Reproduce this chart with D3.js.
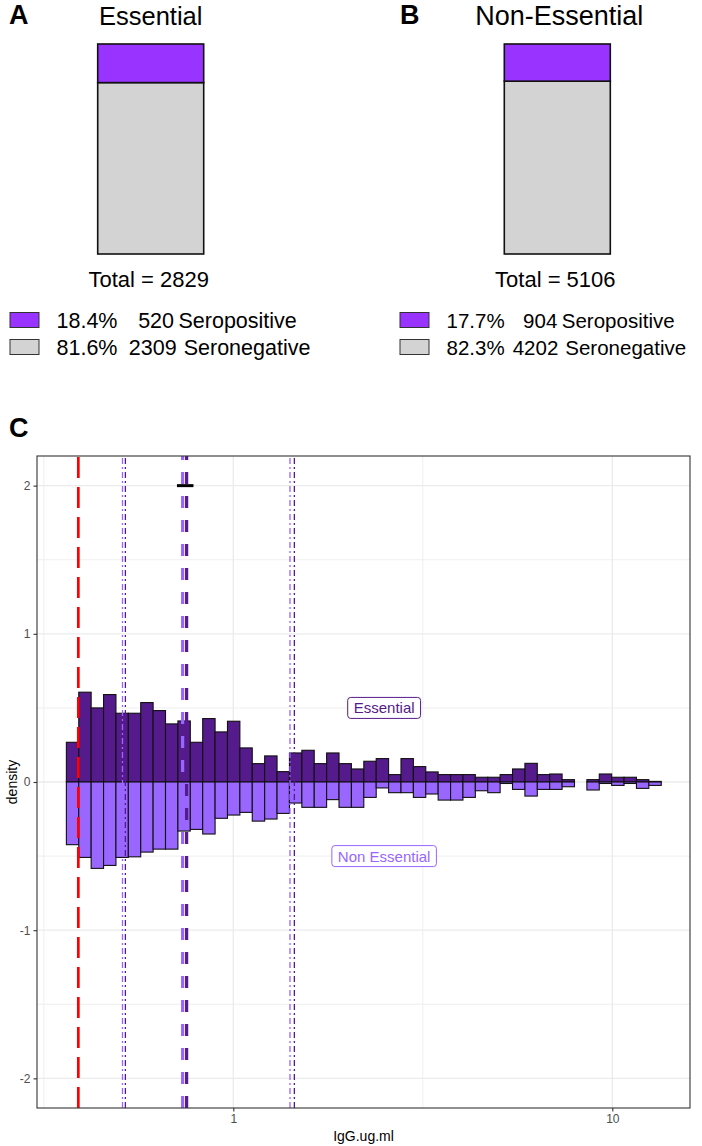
<!DOCTYPE html>
<html>
<head>
<meta charset="utf-8">
<script src="https://cdn.jsdelivr.net/npm/d3@7"></script>
<style>
body { margin: 0; background: #fff; }
text { font-family: "Liberation Sans", Arial, sans-serif; }
</style>
</head>
<body>
<div id="chart"></div>
<script>
// ---- data: panels A / B ----
var groups = ["Essential", "Non-Essential"];
var panelTags = ["A", "B"];
var seroPositive = [520, 904];
var seroNegative = [2309, 4202];
var statusLabels = ["Seropositive", "Seronegative"];

// ---- data: panel C (mirrored histogram on log10 IgG) ----
var histLabels = ["Essential", "Non Essential"];
var binStartLog = -0.4405;   // log10 of first break
var binWidthLog = 0.0327;
var essentialDensity = [0.268, 0.606, 0.50, 0.59, 0.464, 0.464, 0.536, 0.482, 0.392, 0.412,
    0.268, 0.428, 0.338, 0.41, 0.23, 0.124, 0.176, 0.07, 0.196, 0.214,
    0.124, 0.196, 0.124, 0.088, 0.14, 0.158, 0.05, 0.158, 0.104, 0.068,
    0.05, 0.05, 0.05, 0.032, 0.032, 0.05, 0.088, 0.126, 0.05, 0.054,
    0.016, 0, 0.016, 0.054, 0.032, 0.032, 0.016, 0.004];
var nonEssentialDensity = [0.423, 0.509, 0.583, 0.563, 0.509, 0.505, 0.473, 0.453, 0.453, 0.331,
    0.32, 0.351, 0.245, 0.223, 0.205, 0.264, 0.25, 0.212, 0.142, 0.171,
    0.171, 0.119, 0.171, 0.171, 0.104, 0.04, 0.072, 0.072, 0.104, 0.081,
    0.122, 0.122, 0.104, 0.059, 0.072, 0.01, 0.05, 0.095, 0.05, 0.05,
    0.032, 0, 0.054, 0.01, 0.023, 0.01, 0.043, 0.023];
var cutoff = 0.39;
var medians = [0.753, 0.735];              // Essential, Non Essential
var quartiles = [[0.519, 1.449], [0.510, 1.411]];
var medianBar = [0.71, 0.785];             // short bar drawn at density 2
var labelPos = [[2.5, 0.5], [2.5, -0.5]];
var yTicks = [-2, -1, 0, 1, 2];
var yMinor = [-1.5, -0.5, 0.5, 1.5];
var xTicks = [1, 10];
var xMinor = [0.3162, 3.162];

var darkPurple = "#551A8B";
var lightPurple = "#9966FF";
var posFill = "#9933FF";
var negFill = "#D3D3D3";

var svg = d3.select("#chart")
    .append("svg")
    .attr("width", 702)
    .attr("height", 1146);

// ================= A / B =================
var barX = d3.scalePoint().domain(groups).range([150.7, 557.3]);
var barY = d3.scaleLinear().domain([0, 1]).range([254, 44]);
var barW = 106;
var legendX = [10, 400];
var legendFont = ["21.5px", "20.5px"];
var titleFont = ["25.5px", "27px"];
var countEnd = [[174, 176.7], [557.3, 558.3]];

groups.forEach(function(g, i) {
    var total = seroPositive[i] + seroNegative[i];
    var pNeg = seroNegative[i] / total;
    var cx = barX(g);

    svg.append("text")
        .attr("x", i == 0 ? 9 : 400)
        .attr("y", 24)
        .attr("font-size", "27px")
        .attr("font-weight", "bold")
        .text(panelTags[i]);

    svg.append("text")
        .attr("x", cx + (i == 0 ? 0 : 2))
        .attr("y", 24.5)
        .attr("text-anchor", "middle")
        .attr("font-size", titleFont[i])
        .text(g);

    var segs = [[0, pNeg, negFill], [pNeg, 1, posFill]];
    svg.append("g").selectAll("rect")
        .data(segs)
        .enter()
        .append("rect")
        .attr("x", cx - barW / 2)
        .attr("width", barW)
        .attr("y", d => barY(d[1]))
        .attr("height", d => barY(d[0]) - barY(d[1]))
        .attr("fill", d => d[2])
        .attr("stroke", "#111")
        .attr("stroke-width", 1.6);

    svg.append("text")
        .attr("x", cx - 2)
        .attr("y", 287)
        .attr("text-anchor", "middle")
        .attr("font-size", "22px")
        .text("Total = " + total);

    var rows = [[seroPositive[i], posFill], [seroNegative[i], negFill]];
    rows.forEach(function(r, j) {
        var y0 = 312.5 + j * 27;
        svg.append("rect")
            .attr("x", legendX[i])
            .attr("y", y0)
            .attr("width", 29)
            .attr("height", 15)
            .attr("fill", r[1])
            .attr("stroke", "#333")
            .attr("stroke-width", 1);
        svg.append("text")
            .attr("x", legendX[i] + 46.5)
            .attr("y", y0 + 15)
            .attr("font-size", legendFont[i])
            .text((r[0] / total * 100).toFixed(1) + "%");
        svg.append("text")
            .attr("x", countEnd[i][j])
            .attr("y", y0 + 15)
            .attr("text-anchor", "end")
            .attr("font-size", legendFont[i])
            .text(r[0]);
        svg.append("text")
            .attr("x", countEnd[i][j] + (j == 0 ? 4.5 : 7))
            .attr("y", y0 + 15)
            .attr("font-size", legendFont[i])
            .text(statusLabels[j]);
    });
});

// ================= C =================
var pLeft = 37, pRight = 690, pTop = 456, pBottom = 1108;

var x = d3.scaleLog()
    .domain([Math.pow(10, -0.518), Math.pow(10, 1.205)])
    .range([pLeft, pRight]);
var y = d3.scaleLinear()
    .domain([-2.2, 2.2])
    .range([pBottom, pTop]);

svg.append("text")
    .attr("x", 9)
    .attr("y", 437)
    .attr("font-size", "27px")
    .attr("font-weight", "bold")
    .text("C");

var grid = svg.append("g");
grid.selectAll(".ym").data(yMinor).enter().append("line")
    .attr("x1", pLeft).attr("x2", pRight)
    .attr("y1", d => y(d)).attr("y2", d => y(d))
    .attr("stroke", "#EBEBEB").attr("stroke-width", 0.8);
grid.selectAll(".xm").data(xMinor).enter().append("line")
    .attr("y1", pTop).attr("y2", pBottom)
    .attr("x1", d => x(d)).attr("x2", d => x(d))
    .attr("stroke", "#EBEBEB").attr("stroke-width", 0.8);
grid.selectAll(".yM").data(yTicks).enter().append("line")
    .attr("x1", pLeft).attr("x2", pRight)
    .attr("y1", d => y(d)).attr("y2", d => y(d))
    .attr("stroke", "#EBEBEB").attr("stroke-width", 1.3);
grid.selectAll(".xM").data(xTicks).enter().append("line")
    .attr("y1", pTop).attr("y2", pBottom)
    .attr("x1", d => x(d)).attr("x2", d => x(d))
    .attr("stroke", "#EBEBEB").attr("stroke-width", 1.3);

// histogram bars
function bins(vals, sign) {
    return vals.map(function(v, k) {
        return {
            x0: Math.pow(10, binStartLog + k * binWidthLog),
            x1: Math.pow(10, binStartLog + (k + 1) * binWidthLog),
            v: v * sign
        };
    });
}
var hist = [
    { data: bins(essentialDensity, 1), fill: darkPurple },
    { data: bins(nonEssentialDensity, -1), fill: lightPurple }
];
hist.forEach(function(h) {
    svg.append("g").selectAll("rect")
        .data(h.data)
        .enter()
        .append("rect")
        .attr("x", d => x(d.x0))
        .attr("width", d => x(d.x1) - x(d.x0))
        .attr("y", d => Math.min(y(d.v), y(0)))
        .attr("height", d => Math.abs(y(d.v) - y(0)))
        .attr("fill", h.fill)
        .attr("stroke", "#111")
        .attr("stroke-width", 1.1);
});

// vertical reference lines (drawn from bottom up)
function vline(v, color, width, dash) {
    svg.append("line")
        .attr("x1", x(v)).attr("x2", x(v))
        .attr("y1", pBottom).attr("y2", pTop)
        .attr("stroke", color)
        .attr("stroke-width", width)
        .attr("stroke-dasharray", dash);
}
vline(cutoff, "#FF0000", 2.7, "21,9");
var lineCols = [darkPurple, lightPurple];
[1, 0].forEach(function(i) {
    quartiles[i].forEach(q => vline(q, lineCols[i], 1.3, "6,3,2,3"));
    vline(medians[i], lineCols[i], 3.2, "12,12");
});

svg.append("line")
    .attr("x1", x(medianBar[0])).attr("x2", x(medianBar[1]))
    .attr("y1", y(2)).attr("y2", y(2))
    .attr("stroke", "#000")
    .attr("stroke-width", 3);

// group labels
var labCols = [darkPurple, lightPurple];
histLabels.forEach(function(lab, i) {
    var g = svg.append("g");
    var t = g.append("text")
        .attr("x", x(labelPos[i][0]))
        .attr("y", y(labelPos[i][1]) + 5.5)
        .attr("text-anchor", "middle")
        .attr("font-size", "15px")
        .attr("fill", labCols[i])
        .text(lab);
    var w = t.node().getComputedTextLength();
    g.insert("rect", "text")
        .attr("x", x(labelPos[i][0]) - w / 2 - 6)
        .attr("y", y(labelPos[i][1]) - 10.5)
        .attr("width", w + 12)
        .attr("height", 21)
        .attr("rx", 3)
        .attr("fill", "#fff")
        .attr("stroke", labCols[i])
        .attr("stroke-width", 1);
});

// panel border
svg.append("rect")
    .attr("x", pLeft).attr("y", pTop)
    .attr("width", pRight - pLeft).attr("height", pBottom - pTop)
    .attr("fill", "none")
    .attr("stroke", "#333")
    .attr("stroke-width", 1.1);

// axes
var yAxis = d3.axisLeft(y).tickValues(yTicks).tickSize(3.5).tickPadding(3).tickFormat(d3.format("d"));
var yg = svg.append("g").attr("transform", `translate(${pLeft},0)`).call(yAxis);
var xAxis = d3.axisBottom(x).tickValues(xTicks).tickSize(3.5).tickPadding(3).tickFormat(d3.format("d"));
var xg = svg.append("g").attr("transform", `translate(0,${pBottom})`).call(xAxis);
[yg, xg].forEach(function(g) {
    g.select(".domain").remove();
    g.selectAll("line").attr("stroke", "#333").attr("stroke-width", 1.1);
    g.selectAll("text")
        .attr("font-family", "Liberation Sans, Arial, sans-serif")
        .attr("font-size", "12px")
        .style("fill", "#4D4D4D");
});
yg.selectAll("text").text(d => d < 0 ? "-" + Math.abs(d) : d);

svg.append("text")
    .attr("transform", "rotate(-90)")
    .attr("x", -(pTop + pBottom) / 2)
    .attr("y", 17)
    .attr("text-anchor", "middle")
    .attr("font-size", "14px")
    .text("density");

svg.append("text")
    .attr("x", (pLeft + pRight) / 2)
    .attr("y", 1141)
    .attr("text-anchor", "middle")
    .attr("font-size", "14px")
    .text("IgG.ug.ml");
</script>
</body>
</html>
